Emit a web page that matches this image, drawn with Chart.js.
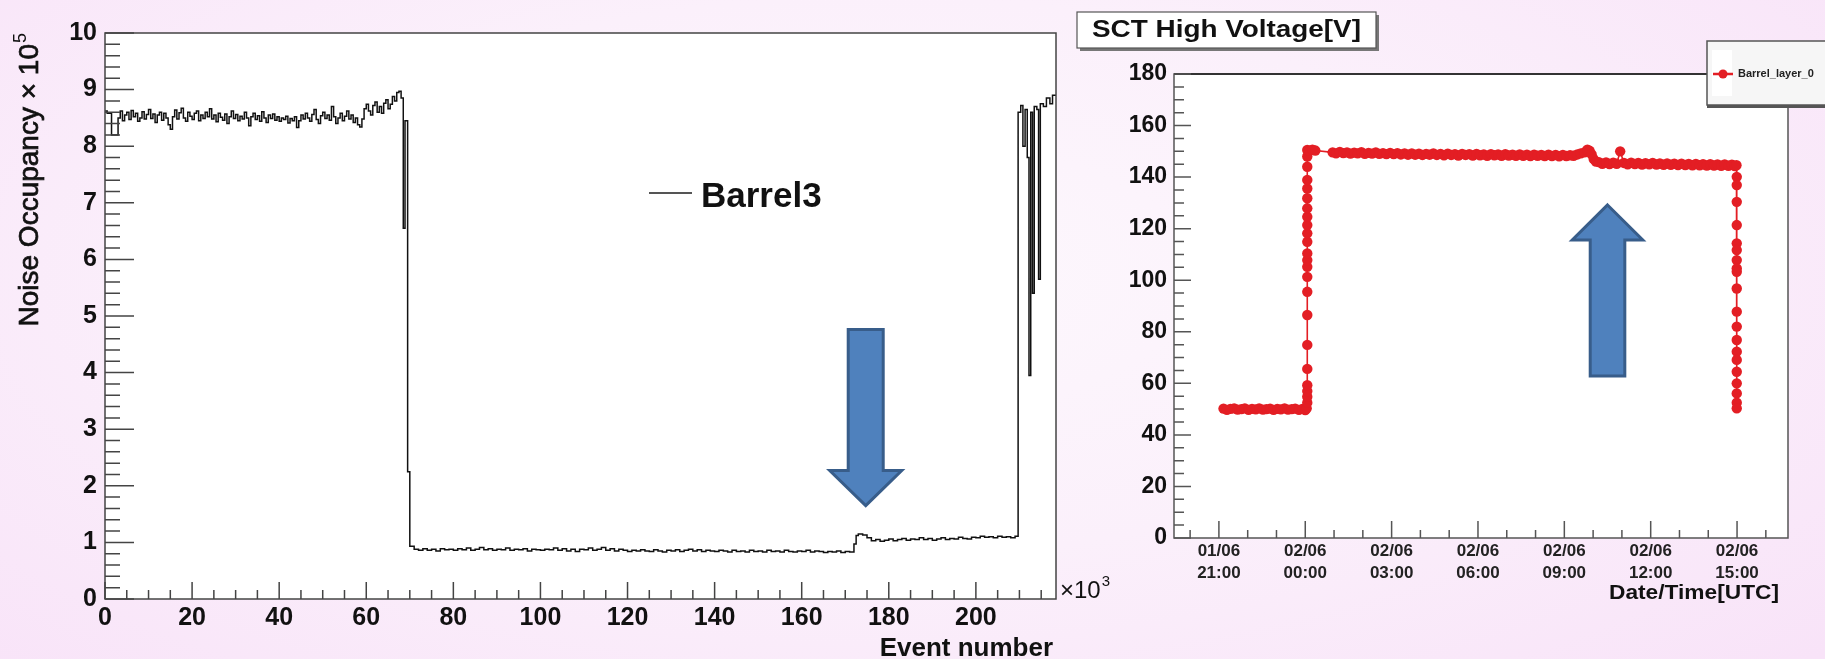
<!DOCTYPE html>
<html>
<head>
<meta charset="utf-8">
<script src="https://cdn.jsdelivr.net/npm/chart.js@4.4.0/dist/chart.umd.min.js"></script>
<style>
  html, body { margin: 0; padding: 0; }
  body {
    width: 1825px; height: 659px; overflow: hidden; position: relative;
    background: radial-gradient(ellipse 70% 85% at 48% 42%, #fdf8fd 0%, #fbf0fb 50%, #f8e3f8 100%);
  }
  canvas { position: absolute; top: 0; }
  #occ { left: 0; }
  #hv { left: 1060px; }
</style>
</head>
<body>
<canvas id="occ" width="1120" height="659"></canvas>
<canvas id="hv" width="765" height="659"></canvas>
<script>
const FONT = '"Liberation Sans", Arial, Helvetica, sans-serif';

// Barrel3 noise occupancy (x10^5): [bin start in 10^3 events, value]; last entry closes the final bin
const barrel3 = [
  [0, 8.62], [0.5, 8.58], [1.5, 8.20], [3, 8.50], [3.5, 8.62], [4, 8.45], [4.5, 8.55], [5, 8.60], [5.5, 8.47],
  [6, 8.63], [6.5, 8.52], [7, 8.58], [7.5, 8.44], [8, 8.50], [8.5, 8.61], [9, 8.48], [9.5, 8.56], [10, 8.65],
  [10.5, 8.49], [11, 8.57], [11.5, 8.42], [12, 8.55], [12.5, 8.60], [13, 8.46], [13.5, 8.58], [14, 8.50], [14.5, 8.38],
  [15, 8.30], [15.5, 8.52], [16, 8.64], [16.5, 8.48], [17, 8.59], [17.5, 8.67], [18, 8.50], [18.5, 8.44], [19, 8.60],
  [19.5, 8.53], [20, 8.47], [20.5, 8.58], [21, 8.62], [21.5, 8.45], [22, 8.55], [22.5, 8.49], [23, 8.60], [23.5, 8.52],
  [24, 8.66], [24.5, 8.48], [25, 8.55], [25.5, 8.43], [26, 8.58], [26.5, 8.51], [27, 8.46], [27.5, 8.57], [28, 8.40],
  [28.5, 8.52], [29, 8.62], [29.5, 8.49], [30, 8.56], [30.5, 8.45], [31, 8.53], [31.5, 8.48], [32, 8.60], [32.5, 8.50],
  [33, 8.36], [33.5, 8.52], [34, 8.58], [34.5, 8.47], [35, 8.54], [35.5, 8.44], [36, 8.61], [36.5, 8.50], [37, 8.42],
  [37.5, 8.55], [38, 8.49], [38.5, 8.57], [39, 8.46], [39.5, 8.52], [40, 8.44], [40.5, 8.50], [41, 8.47], [41.5, 8.53],
  [42, 8.41], [42.5, 8.49], [43, 8.45], [43.5, 8.52], [44, 8.33], [44.5, 8.45], [45, 8.55], [45.5, 8.48], [46, 8.58],
  [46.5, 8.50], [47, 8.44], [47.5, 8.56], [48, 8.65], [48.5, 8.47], [49, 8.40], [49.5, 8.54], [50, 8.60], [50.5, 8.49],
  [51, 8.55], [51.5, 8.46], [52, 8.70], [52.5, 8.52], [53, 8.40], [53.5, 8.50], [54, 8.58], [54.5, 8.45], [55, 8.53],
  [55.5, 8.62], [56, 8.48], [56.5, 8.55], [57, 8.42], [57.5, 8.50], [58, 8.38], [58.5, 8.34], [59, 8.48], [59.5, 8.66],
  [60, 8.74], [60.5, 8.62], [61, 8.55], [61.5, 8.72], [62, 8.78], [62.5, 8.60], [63, 8.70], [63.5, 8.58], [64, 8.76],
  [64.5, 8.82], [65, 8.66], [65.5, 8.74], [66, 8.88], [66.5, 8.80], [67, 8.95], [67.5, 8.97], [68, 8.85], [68.5, 6.55],
  [68.9, 8.45], [69.5, 2.25], [70, 0.93], [71, 0.88], [72, 0.86], [73, 0.89], [74, 0.86], [75, 0.88], [76, 0.85], [77, 0.89],
  [78, 0.87], [79, 0.88], [80, 0.86], [81, 0.89], [82, 0.87], [83, 0.90], [84, 0.86], [85, 0.88], [86, 0.91], [87, 0.87],
  [88, 0.89], [89, 0.86], [90, 0.88], [91, 0.87], [92, 0.90], [93, 0.86], [94, 0.88], [95, 0.87], [96, 0.89], [97, 0.85],
  [98, 0.88], [99, 0.87], [100, 0.86], [101, 0.88], [102, 0.87], [103, 0.90], [104, 0.86], [105, 0.89], [106, 0.85], [107, 0.88],
  [108, 0.84], [109, 0.88], [110, 0.87], [111, 0.90], [112, 0.86], [113, 0.88], [114, 0.91], [115, 0.86], [116, 0.89], [117, 0.85],
  [118, 0.88], [119, 0.86], [120, 0.84], [121, 0.86], [122, 0.85], [123, 0.87], [124, 0.85], [125, 0.84], [126, 0.87], [127, 0.85],
  [128, 0.83], [129, 0.86], [130, 0.85], [131, 0.87], [132, 0.84], [133, 0.86], [134, 0.88], [135, 0.85], [136, 0.87], [137, 0.84],
  [138, 0.86], [139, 0.85], [140, 0.84], [141, 0.86], [142, 0.85], [143, 0.83], [144, 0.86], [145, 0.84], [146, 0.85], [147, 0.83],
  [148, 0.86], [149, 0.84], [150, 0.85], [151, 0.83], [152, 0.86], [153, 0.84], [154, 0.85], [155, 0.83], [156, 0.86], [157, 0.84],
  [158, 0.83], [159, 0.85], [160, 0.84], [161, 0.86], [162, 0.83], [163, 0.85], [164, 0.84], [165, 0.82], [166, 0.84], [167, 0.83],
  [168, 0.85], [169, 0.82], [170, 0.84], [171, 0.83], [172, 0.97], [172.5, 1.12], [173, 1.15], [174, 1.13], [175, 1.08], [176, 1.03],
  [177, 1.05], [178, 1.02], [179, 1.04], [180, 1.06], [181, 1.03], [182, 1.05], [183, 1.07], [184, 1.04], [185, 1.06], [186, 1.05],
  [187, 1.08], [188, 1.05], [189, 1.07], [190, 1.04], [191, 1.06], [192, 1.08], [193, 1.05], [194, 1.07], [195, 1.06], [196, 1.09],
  [197, 1.07], [198, 1.06], [199, 1.09], [200, 1.08], [201, 1.11], [202, 1.09], [203, 1.10], [204, 1.08], [205, 1.11], [206, 1.09],
  [207, 1.10], [208, 1.08], [209, 1.11], [209.7, 8.60], [210.3, 8.72], [210.8, 8.00], [211.3, 8.65], [211.8, 7.80], [212.2, 3.95],
  [212.6, 8.60], [213.0, 5.40], [213.4, 8.70], [214.0, 8.65], [214.4, 5.65], [214.8, 8.75], [215.5, 8.70], [216.2, 8.85],
  [217.0, 8.75], [217.6, 8.90], [218.4, 8.90]
];
const occXMax = 218.4;
const occXTicks = [0, 20, 40, 60, 80, 100, 120, 140, 160, 180, 200];
const occYTicks = [0, 1, 2, 3, 4, 5, 6, 7, 8, 9, 10];
// arrow pointing at the occupancy step (data units)
const occArrow = { x: 174.7, tip: 1.65, tail: 4.76 };

// SCT barrel layer 0 high voltage: [hours from 02/06 00:00 UTC, volts]
const barrelLayer0 = [
  [-2.84, 50.2], [-2.72, 49.7], [-2.6, 50.1], [-2.47, 50.3], [-2.35, 49.8], [-2.22, 50.0], [-2.1, 50.3], [-1.97, 49.7],
  [-1.85, 50.1], [-1.72, 49.9], [-1.6, 50.3], [-1.47, 49.8], [-1.35, 50.0], [-1.22, 50.2], [-1.1, 49.7], [-0.97, 50.1],
  [-0.85, 49.9], [-0.72, 50.3], [-0.6, 49.8], [-0.47, 50.0], [-0.35, 50.2], [-0.22, 49.7], [-0.1, 50.1], [0.0, 49.6], [0.05, 50.3],
  [0.07, 52.5], [0.07, 54.8], [0.07, 57.0], [0.07, 59.3], [0.07, 65.6], [0.07, 74.9], [0.07, 86.5], [0.07, 95.5],
  [0.07, 101.3], [0.07, 105.2], [0.07, 107.8], [0.07, 110.4], [0.07, 114.9], [0.07, 118.2], [0.07, 121.4],
  [0.07, 124.6], [0.07, 127.9], [0.07, 131.8], [0.07, 135.6], [0.07, 138.9], [0.07, 144.0], [0.07, 148.0], [0.07, 150.5],
  [0.15, 150.2], [0.25, 150.6], [0.35, 150.3],
  [0.95, 149.6], [1.07, 149.2], [1.2, 149.8], [1.32, 149.3], [1.45, 149.6], [1.57, 149.1], [1.7, 149.5], [1.82, 149.2],
  [1.95, 149.7], [2.07, 149.0], [2.2, 149.4], [2.32, 149.1], [2.45, 149.6], [2.57, 149.0], [2.7, 149.3], [2.82, 148.9],
  [2.95, 149.4], [3.07, 148.9], [3.2, 149.3], [3.32, 148.8], [3.45, 149.2], [3.57, 148.7], [3.7, 149.2], [3.82, 148.7],
  [3.95, 149.1], [4.07, 148.6], [4.2, 149.0], [4.32, 148.7], [4.45, 149.2], [4.57, 148.6], [4.7, 149.0], [4.82, 148.5],
  [4.95, 149.1], [5.07, 148.6], [5.2, 148.9], [5.32, 148.4], [5.45, 149.0], [5.57, 148.6], [5.7, 148.9], [5.82, 148.4],
  [5.95, 149.0], [6.07, 148.5], [6.2, 148.8], [6.32, 148.3], [6.45, 148.9], [6.57, 148.5], [6.7, 148.8], [6.82, 148.3],
  [6.95, 148.9], [7.07, 148.4], [7.2, 148.7], [7.32, 148.3], [7.45, 148.8], [7.57, 148.3], [7.7, 148.7], [7.82, 148.2],
  [7.95, 148.7], [8.07, 148.3], [8.2, 148.6], [8.32, 148.2], [8.45, 148.7], [8.57, 148.2], [8.7, 148.6], [8.82, 148.1],
  [8.95, 148.6], [9.07, 148.2], [9.2, 148.5], [9.32, 148.3], [9.45, 148.8], [9.57, 149.2], [9.7, 149.6], [9.8, 150.6],
  [9.88, 150.2], [9.95, 148.8], [10.02, 147.0], [10.1, 146.0],
  [10.2, 145.8], [10.32, 145.2], [10.45, 145.7], [10.57, 145.1], [10.7, 145.6], [10.82, 145.2], [10.94, 150.0],
  [11.07, 145.5], [11.2, 145.0], [11.32, 145.6], [11.45, 145.1], [11.57, 145.5], [11.7, 144.9], [11.82, 145.4],
  [11.95, 145.0], [12.07, 145.5], [12.2, 144.9], [12.32, 145.3], [12.45, 144.8], [12.57, 145.3], [12.7, 144.8],
  [12.82, 145.2], [12.95, 144.7], [13.07, 145.2], [13.2, 144.7], [13.32, 145.1], [13.45, 144.6], [13.57, 145.1],
  [13.7, 144.6], [13.82, 145.0], [13.95, 144.5], [14.07, 145.0], [14.2, 144.5], [14.32, 144.9], [14.45, 144.4],
  [14.57, 144.9], [14.7, 144.4], [14.82, 144.8], [14.92, 144.3], [14.98, 144.6],
  [14.99, 140.1], [14.99, 136.9], [14.99, 130.4], [14.99, 121.4], [14.99, 114.3], [14.99, 111.7], [14.99, 107.8],
  [14.99, 104.6], [14.99, 103.3], [14.99, 96.8], [14.99, 87.8], [14.99, 82.0], [14.99, 76.8], [14.99, 72.3],
  [14.99, 69.1], [14.99, 64.5], [14.99, 60.0], [14.99, 56.1], [14.99, 52.5], [14.99, 50.3]
];
const hvXMin = -4.56;
const hvXMax = 16.77;
const hvTickHours = [-3, 0, 3, 6, 9, 12, 15];
const hvTickLabels = [
  ['01/06', '21:00'], ['02/06', '00:00'], ['02/06', '03:00'], ['02/06', '06:00'],
  ['02/06', '09:00'], ['02/06', '12:00'], ['02/06', '15:00']
];
const hvYTicks = [0, 20, 40, 60, 80, 100, 120, 140, 160, 180];
const hvArrow = { x: 10.5, tip: 129.2, tail: 62.8 };

const toXY = pairs => pairs.map(([x, y]) => ({ x, y }));

// ROOT style frame: white pad, box, inward major/minor ticks
function rootFrame(cfg) {
  return {
    id: 'rootFrame',
    beforeDatasetsDraw(chart) {
      const { ctx, chartArea: a } = chart;
      ctx.save();
      ctx.fillStyle = '#ffffff';
      ctx.fillRect(a.left, a.top, a.right - a.left, a.bottom - a.top);
      ctx.restore();
    },
    afterDatasetsDraw(chart) {
      const { ctx, chartArea: a, scales: { x, y } } = chart;
      ctx.save();
      ctx.strokeStyle = cfg.color;
      ctx.lineWidth = 1.5;
      ctx.strokeRect(a.left, a.top, a.right - a.left, a.bottom - a.top);
      if (cfg.topColor) {
        ctx.beginPath();
        ctx.strokeStyle = cfg.topColor;
        ctx.lineWidth = 2.2;
        ctx.moveTo(a.left, a.top);
        ctx.lineTo(a.right, a.top);
        ctx.stroke();
      }
      ctx.strokeStyle = cfg.color;
      ctx.lineWidth = 1.5;
      ctx.beginPath();
      const xTick = (v, len) => {
        const px = x.getPixelForValue(v);
        if (px < a.left - 0.5 || px > a.right + 0.5) return;
        ctx.moveTo(px, a.bottom);
        ctx.lineTo(px, a.bottom - len);
      };
      const yTick = (v, len) => {
        const py = y.getPixelForValue(v);
        if (py < a.top - 0.5 || py > a.bottom + 0.5) return;
        ctx.moveTo(a.left, py);
        ctx.lineTo(a.left + len, py);
      };
      for (let v = cfg.xMinorFrom; v <= x.max; v += cfg.xMinorStep) xTick(v, cfg.xMinorLen);
      cfg.xMajor.forEach(v => xTick(v, cfg.xMajorLen));
      for (let k = 0; y.min + k * cfg.yMinorStep <= y.max + 1e-9; k++) yTick(y.min + k * cfg.yMinorStep, cfg.yMinorLen);
      cfg.yMajor.forEach(v => yTick(v, cfg.yMajorLen));
      ctx.stroke();
      ctx.restore();
    }
  };
}

function drawArrow(ctx, tipX, tipY, tailY, shaftHalf, headHalf, headLen) {
  const dir = tailY > tipY ? 1 : -1;
  const baseY = tipY + dir * headLen;
  ctx.save();
  ctx.beginPath();
  ctx.moveTo(tipX, tipY);
  ctx.lineTo(tipX + headHalf, baseY);
  ctx.lineTo(tipX + shaftHalf, baseY);
  ctx.lineTo(tipX + shaftHalf, tailY);
  ctx.lineTo(tipX - shaftHalf, tailY);
  ctx.lineTo(tipX - shaftHalf, baseY);
  ctx.lineTo(tipX - headHalf, baseY);
  ctx.closePath();
  ctx.fillStyle = '#4f81bd';
  ctx.fill();
  ctx.lineJoin = 'miter';
  ctx.lineWidth = 3;
  ctx.strokeStyle = '#385d8a';
  ctx.stroke();
  ctx.restore();
}

// draw text stretched horizontally to a given width
function fitText(ctx, text, x, y, font, width, align) {
  ctx.save();
  ctx.font = font;
  const s = width / ctx.measureText(text).width;
  ctx.translate(x, y);
  ctx.scale(s, 1);
  ctx.textAlign = align;
  ctx.textBaseline = 'alphabetic';
  ctx.fillText(text, 0, 0);
  ctx.restore();
}

const occDecor = {
  id: 'occDecor',
  afterDraw(chart) {
    const { ctx, scales: { x, y } } = chart;
    ctx.save();
    ctx.fillStyle = '#111';

    // legend entry
    ctx.strokeStyle = '#555';
    ctx.lineWidth = 2;
    ctx.beginPath();
    ctx.moveTo(649, 193);
    ctx.lineTo(692, 193);
    ctx.stroke();
    ctx.font = 'bold 35px ' + FONT;
    ctx.textBaseline = 'alphabetic';
    ctx.textAlign = 'left';
    ctx.fillText('Barrel3', 701, 207);

    // y title, rotated, ending at the top of the axis (light stroke for a heavier look)
    ctx.save();
    ctx.translate(30, 33);
    ctx.rotate(-Math.PI / 2);
    ctx.strokeStyle = '#111';
    ctx.lineWidth = 0.7;
    ctx.font = '18px ' + FONT;
    const w5 = ctx.measureText('5').width;
    ctx.textAlign = 'right';
    ctx.textBaseline = 'middle';
    ctx.fillText('5', 0, -9);
    ctx.font = '28px ' + FONT;
    ctx.fillText('Noise Occupancy \u00d7 10', -w5 - 1, 0);
    ctx.strokeText('Noise Occupancy \u00d7 10', -w5 - 1, 0);
    ctx.restore();

    // x title and exponent
    ctx.font = 'bold 26px ' + FONT;
    ctx.textAlign = 'right';
    ctx.textBaseline = 'alphabetic';
    ctx.fillText('Event number', 1053, 656);
    ctx.textAlign = 'left';
    ctx.font = '24px ' + FONT;
    ctx.fillText('\u00d710', 1060, 598);
    const w10 = ctx.measureText('\u00d710').width;
    ctx.font = '15px ' + FONT;
    ctx.fillText('3', 1060 + w10 + 1, 586);
    ctx.restore();

    drawArrow(ctx, x.getPixelForValue(occArrow.x), y.getPixelForValue(occArrow.tip),
      y.getPixelForValue(occArrow.tail), 17.5, 36, 35);
  }
};

new Chart(document.getElementById('occ'), {
  type: 'line',
  data: {
    datasets: [{
      label: 'Barrel3',
      data: toXY(barrel3),
      stepped: 'before',
      borderColor: '#111',
      borderWidth: 1.5,
      pointRadius: 0,
      fill: false
    }]
  },
  options: {
    responsive: false,
    animation: false,
    events: [],
    layout: { padding: { left: 0, top: 33, right: 64, bottom: 0 } },
    plugins: { legend: { display: false }, tooltip: { enabled: false } },
    scales: {
      x: {
        type: 'linear', min: 0, max: occXMax,
        grid: { display: false, drawTicks: false },
        border: { display: false },
        afterBuildTicks: s => { s.ticks = occXTicks.map(v => ({ value: v })); },
        afterFit: s => { s.height = 60; },
        ticks: { autoSkip: false, maxRotation: 0, padding: 4, color: '#111',
                 font: { family: FONT, size: 25, weight: 'bold' } }
      },
      y: {
        type: 'linear', min: 0, max: 10,
        grid: { display: false, drawTicks: false },
        border: { display: false },
        afterBuildTicks: s => { s.ticks = occYTicks.map(v => ({ value: v })); },
        afterFit: s => { s.width = 105; },
        ticks: { autoSkip: false, padding: 8, color: '#111',
                 font: { family: FONT, size: 25, weight: 'bold' } }
      }
    }
  },
  plugins: [rootFrame({
    color: '#444', xMajor: occXTicks, yMajor: occYTicks,
    xMinorFrom: 0, xMinorStep: 5, xMinorLen: 9, xMajorLen: 17,
    yMinorStep: 0.2, yMinorLen: 15, yMajorLen: 29
  }), occDecor]
});

const hvDecor = {
  id: 'hvDecor',
  afterDraw(chart) {
    const { ctx, scales: { x, y } } = chart;
    ctx.save();

    // pad title box with shadow
    ctx.fillStyle = '#777';
    ctx.fillRect(20, 15, 299, 36);
    ctx.fillStyle = '#ffffff';
    ctx.fillRect(17, 12, 299, 36);
    ctx.strokeStyle = '#555';
    ctx.lineWidth = 1.2;
    ctx.strokeRect(17, 12, 299, 36);
    ctx.fillStyle = '#111';
    fitText(ctx, 'SCT High Voltage[V]', 32, 37, 'bold 24px ' + FONT, 269, 'left');

    // legend box
    ctx.fillStyle = '#555';
    ctx.fillRect(647, 43, 130, 65);
    ctx.fillStyle = '#f6f6f6';
    ctx.fillRect(647, 41, 130, 64);
    ctx.strokeStyle = '#555';
    ctx.lineWidth = 1.5;
    ctx.strokeRect(647, 41, 130, 64);
    ctx.fillStyle = '#ffffff';
    ctx.fillRect(652, 50, 20, 46);
    ctx.strokeStyle = '#e31e24';
    ctx.lineWidth = 2.5;
    ctx.beginPath();
    ctx.moveTo(653, 74);
    ctx.lineTo(673, 74);
    ctx.stroke();
    ctx.fillStyle = '#e31e24';
    ctx.beginPath();
    ctx.arc(663, 74, 4.5, 0, Math.PI * 2);
    ctx.fill();
    ctx.fillStyle = '#222';
    ctx.font = 'bold 11px ' + FONT;
    ctx.textAlign = 'left';
    ctx.textBaseline = 'middle';
    ctx.fillText('Barrel_layer_0', 678, 74);

    // x title
    ctx.fillStyle = '#111';
    fitText(ctx, 'Date/Time[UTC]', 719, 599, 'bold 21px ' + FONT, 170, 'right');
    ctx.restore();

    drawArrow(ctx, x.getPixelForValue(hvArrow.x), y.getPixelForValue(hvArrow.tip),
      y.getPixelForValue(hvArrow.tail), 17.3, 35.3, 35);
  }
};

new Chart(document.getElementById('hv'), {
  type: 'line',
  data: {
    datasets: [{
      label: 'Barrel_layer_0',
      data: toXY(barrelLayer0),
      borderColor: '#e31e24',
      borderWidth: 1.6,
      pointRadius: 5.2,
      pointBorderWidth: 0,
      pointBackgroundColor: '#e31e24',
      pointBorderColor: '#e31e24',
      tension: 0,
      fill: false
    }]
  },
  options: {
    responsive: false,
    animation: false,
    events: [],
    layout: { padding: { left: 0, top: 74, right: 37, bottom: 0 } },
    plugins: { legend: { display: false }, tooltip: { enabled: false } },
    scales: {
      x: {
        type: 'linear', min: hvXMin, max: hvXMax,
        grid: { display: false, drawTicks: false },
        border: { display: false },
        afterBuildTicks: s => { s.ticks = hvTickHours.map(v => ({ value: v })); },
        afterFit: s => { s.height = 121; },
        ticks: {
          autoSkip: false, maxRotation: 0, padding: 2, color: '#222',
          font: { family: FONT, size: 17, weight: 'bold', lineHeight: 1.3 },
          callback: v => hvTickLabels[hvTickHours.indexOf(v)]
        }
      },
      y: {
        type: 'linear', min: 0, max: 180,
        grid: { display: false, drawTicks: false },
        border: { display: false },
        afterBuildTicks: s => { s.ticks = hvYTicks.map(v => ({ value: v })); },
        afterFit: s => { s.width = 114; },
        ticks: { autoSkip: false, padding: 7, color: '#111',
                 font: { family: FONT, size: 23, weight: 'bold' } }
      }
    }
  },
  plugins: [rootFrame({
    color: '#555', topColor: '#333', xMajor: hvTickHours, yMajor: hvYTicks,
    xMinorFrom: -4, xMinorStep: 1, xMinorLen: 8, xMajorLen: 17,
    yMinorStep: 5, yMinorLen: 10, yMajorLen: 17
  }), hvDecor]
});
</script>
</body>
</html>
